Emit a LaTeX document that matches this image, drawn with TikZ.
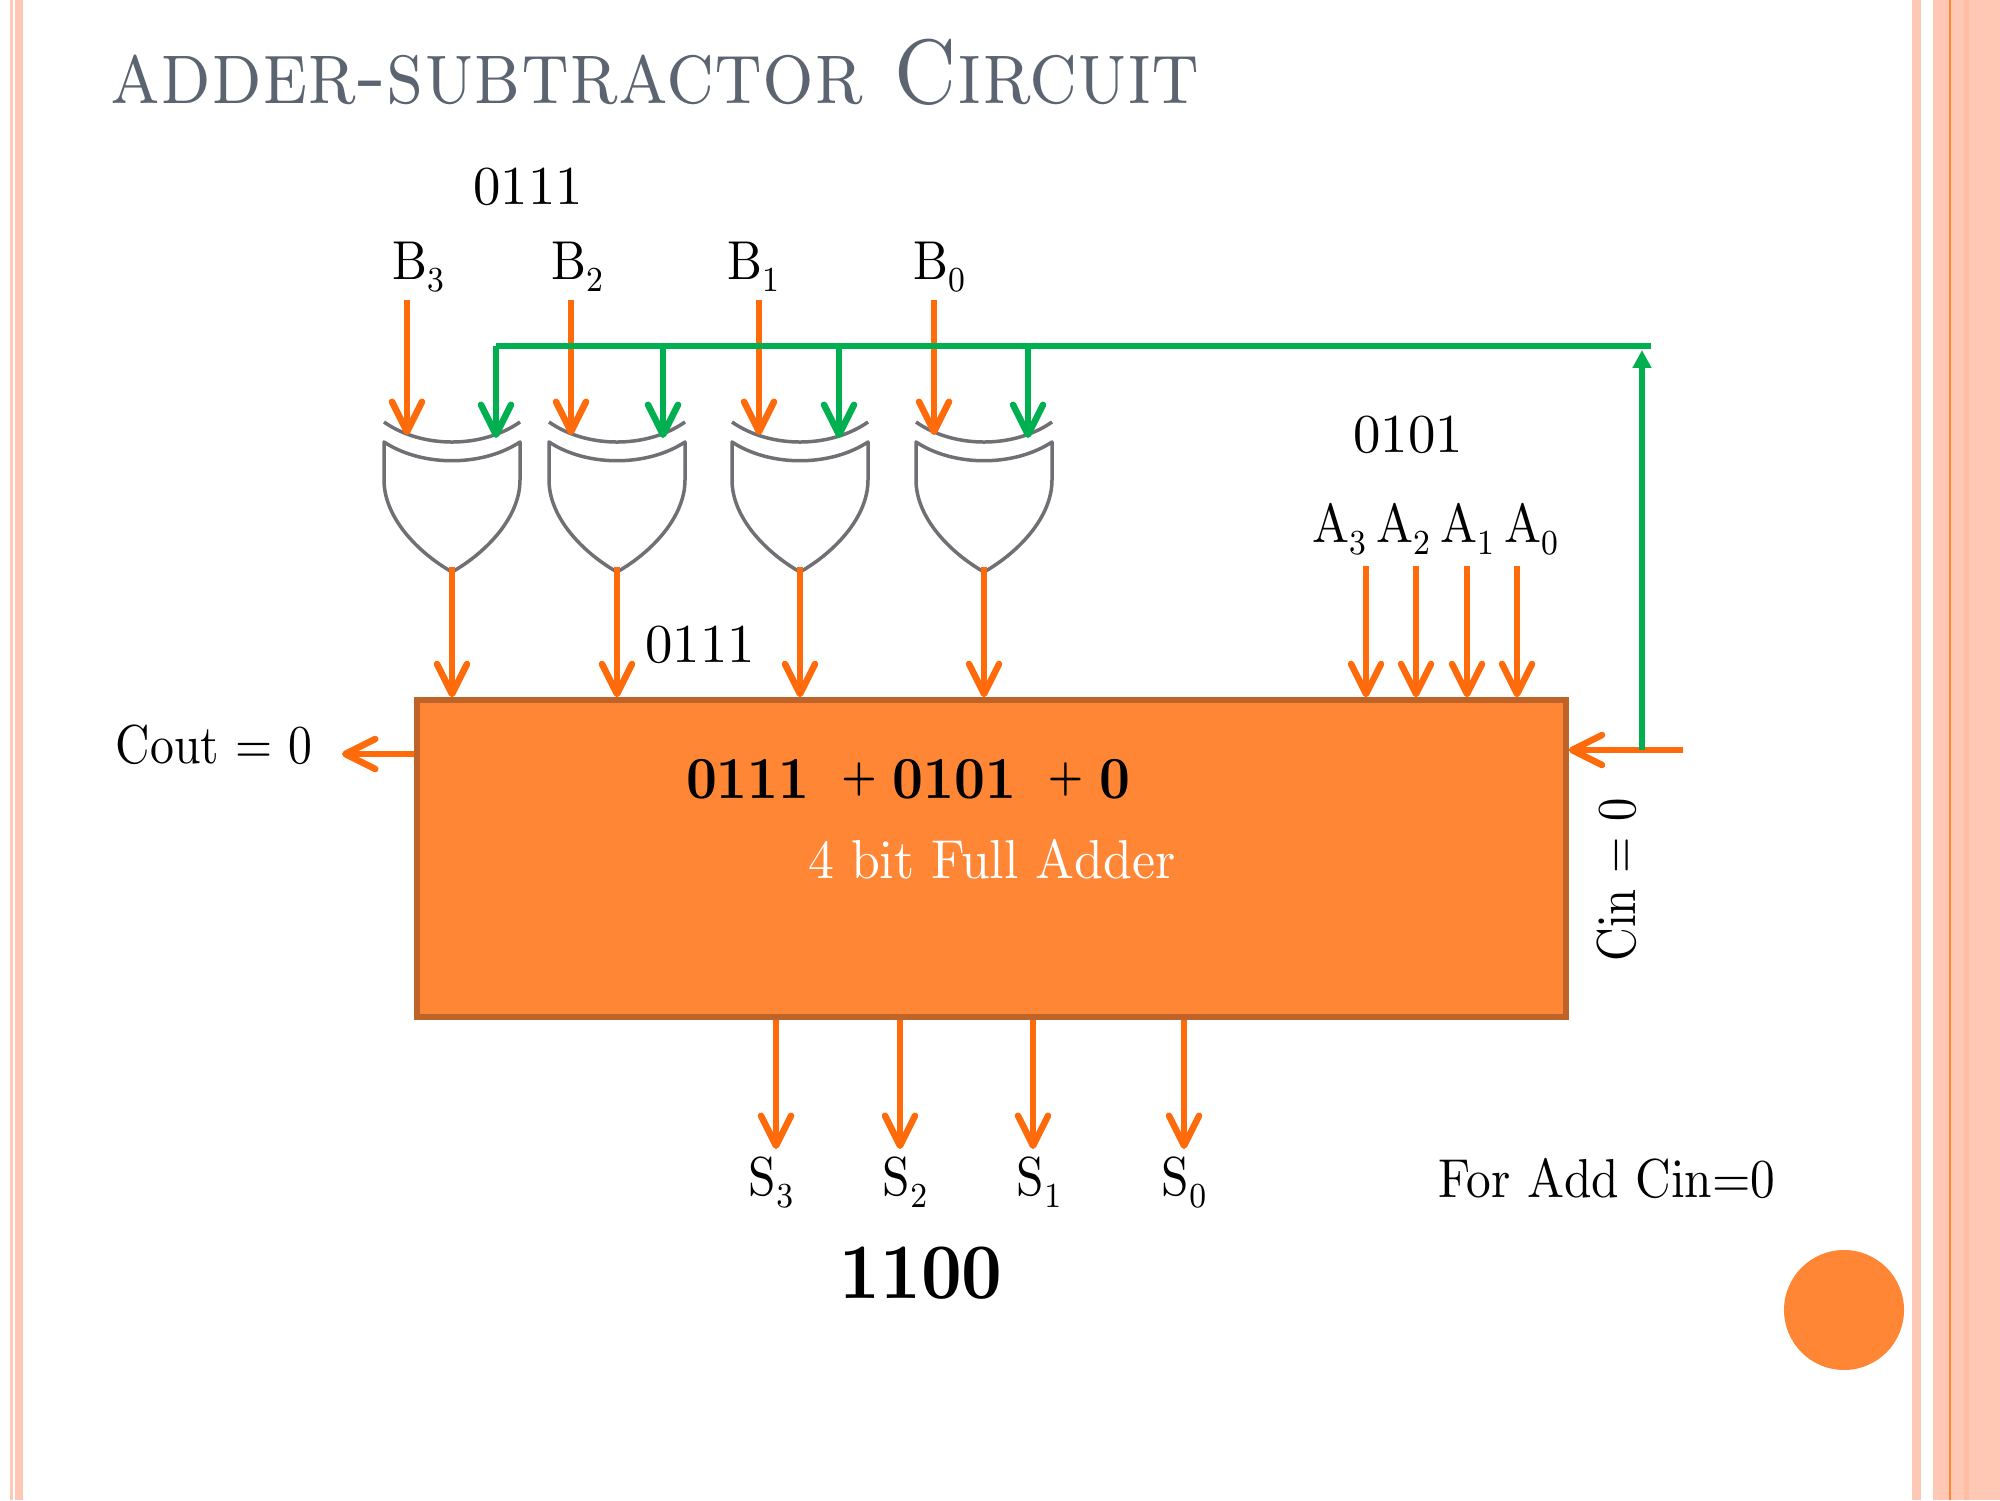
\documentclass[tikz,border=0pt]{standalone}
\usetikzlibrary{arrows.meta,calc}
\definecolor{myband}{HTML}{FFC8B4}
\definecolor{mydark}{HTML}{FFBDA2}
\definecolor{myorange}{HTML}{FF8635}
\definecolor{myedge}{HTML}{BE6428}
\definecolor{mywire}{HTML}{FF6A0A}
\definecolor{mygreen}{HTML}{00B050}
\definecolor{mytitle}{HTML}{5B6470}
\definecolor{mygate}{HTML}{707074}
\font\labelfont=cmr10 at 15.6pt
\font\subfont=cmr8 at 10pt
\font\sumfont=cmbx10 at 17pt
\font\plusfont=cmbx10 at 12.5pt
\font\resultfont=cmbx10 at 22.4pt
\font\titlefont=cmcsc10 at 26pt
\newcommand{\narrowtext}[1]{\scalebox{0.9}[1]{#1}}
\newcommand{\wiresub}[1]{\raisebox{-3.5pt}{\subfont #1}}
\newcommand{\sumplus}{\raisebox{2.2pt}{\plusfont +}}

\begin{document}
\begin{tikzpicture}[
		x=1cm,
		y=1cm,
		line cap=butt,
		line join=miter,
		band/.style={fill=myband,draw=none},
		wire/.style={line width=0.065cm,mywire,-{Straight Barb[round,length=3mm,width=3mm]}},
		selwire/.style={line width=0.065cm,mygreen,-{Straight Barb[round,length=3mm,width=3mm]}},
		label/.style={font=\labelfont,inner sep=0pt},
		xorgate/.pic={
			\draw[mygate,line width=0.035cm,line join=round]
			(-0.68,0) .. controls (-0.3,-0.25) and (0.3,-0.25) .. (0.68,0)
			-- (0.68,-0.38) .. controls (0.68,-0.75) and (0.35,-1.1) .. (0,-1.30)
			.. controls (-0.35,-1.1) and (-0.68,-0.75) .. (-0.68,-0.38) -- cycle;
			\draw[mygate,line width=0.035cm]
			(-0.68,0.20) .. controls (-0.3,-0.067) and (0.3,-0.067) .. (0.68,0.20);
			\coordinate (-out) at (0,-1.25);
		}
	]
	
	% Page and side bands
	\useasboundingbox (0,0) rectangle (20,15);
	\fill[white] (0,0) rectangle (20,15);
	\fill[band] (0.10,0) rectangle (0.13,15);
	\fill[band] (0.15,0) rectangle (0.23,15);
	\fill[band] (19.12,0) rectangle (19.21,15);
	\fill[band] (19.33,0) rectangle (20,15);
	\fill[myorange] (19.49,0) rectangle (19.51,15);
	\fill[mydark] (19.64,0) rectangle (19.69,15);
	\fill[myorange] (18.44,1.90) circle (0.60);
	
	% Title
	\node[font=\titlefont,text=mytitle,inner sep=0pt,anchor=base west] (title) at (1.10,13.96)
	{\scalebox{0.89}[1]{adder-subtractor Circuit}};
	
	% Adder block
	\node[draw=myedge,fill=myorange,line width=0.055cm,minimum width=11.49cm,minimum height=3.17cm,inner sep=0pt] (adder) at (9.915,6.415) {};
	\node[font=\sumfont,inner sep=0pt] (sumtext) at (9.08,7.21)
	{\narrowtext{0111\hspace{10pt}\sumplus\hspace{5pt}0101\hspace{10pt}\sumplus\hspace{5pt}0}};
	\node[label,text=white] (addername) at (9.92,6.41) {\scalebox{0.945}[1]{4 bit Full Adder}};
	
	% XOR gates and B inputs
	\foreach \n/\bx/\tx/\gx/\lx in {3/4.07/4.96/4.52/4.18,2/5.71/6.63/6.17/5.77,1/7.59/8.39/8.00/7.53,0/9.34/10.28/9.84/9.39}{
		\pic (gate\n) at (\gx,10.58) {xorgate};
		\node[label] (b\n) at (\lx,12.33) {\narrowtext{B\wiresub{\n}}};
		\coordinate (bstart\n) at (\bx,12.00);
		\coordinate (bend\n) at (\bx,10.65);
		\coordinate (tap\n) at (\tx,11.54);
		\coordinate (tapend\n) at (\tx,10.62);
		\draw[wire] (bstart\n) -- (bend\n);
		\draw[wire] (gate\n-out) -- (gate\n-out |- adder.north);
	}
	
	% A inputs
	\foreach \n/\ax/\lx in {3/13.66/13.39,2/14.16/14.03,1/14.67/14.67,0/15.17/15.31}{
		\node[label] (a\n) at (\lx,9.70) {\narrowtext{A\wiresub{\n}}};
		\coordinate (astart\n) at (\ax,9.34);
		\draw[wire] (astart\n) -- (astart\n |- adder.north);
	}
	
	% Sum outputs
	\foreach \n/\sx/\lx in {3/7.76/7.71,2/9.00/9.05,1/10.33/10.39,0/11.84/11.84}{
		\node[label] (s\n) at (\lx,3.17) {\narrowtext{S\wiresub{\n}}};
		\coordinate (send\n) at (\sx,3.51);
		\draw[wire] (send\n |- adder.south) -- (send\n);
	}
	
	% Carry lines
	\coordinate (cinstart) at (16.83,7.50);
	\coordinate (cintap) at (16.42,7.50);
	\coordinate (coutend) at (3.42,7.46);
	\draw[wire] (cinstart) -- (cinstart -| adder.east);
	\draw[wire] (coutend -| adder.west) -- (coutend);
	
	% Select line back to the gates
	\coordinate (busleft) at (4.96,11.54);
	\coordinate (busright) at (16.51,11.54);
	\coordinate (bustop) at (16.42,11.50);
	\draw[line width=0.065cm,mygreen] (busleft) -- (busright);
	\draw[line width=0.065cm,mygreen,-{Triangle[length=1.8mm,width=1.8mm]}] (cintap) -- (bustop);
	\foreach \n in {3,2,1,0}{
		\draw[selwire] (tap\n) -- (tapend\n);
	}
	
	% Remaining values
	\node[label] (bvalue) at (5.28,13.13) {0111};
	\node[label] (xvalue) at (7.00,8.55) {0111};
	\node[label] (avalue) at (14.08,10.65) {0101};
	\node[label] (cout) at (2.14,7.55) {\scalebox{0.87}[1]{Cout = 0}};
	\node[label,rotate=90] (cin) at (16.17,6.20) {\scalebox{0.85}[1]{Cin = 0}};
	\node[label] (mode) at (16.07,3.22) {\narrowtext{For Add Cin=0}};
	\node[font=\resultfont,inner sep=0pt] (result) at (9.21,2.27) {\narrowtext{1100}};
	
\end{tikzpicture}
\end{document}
